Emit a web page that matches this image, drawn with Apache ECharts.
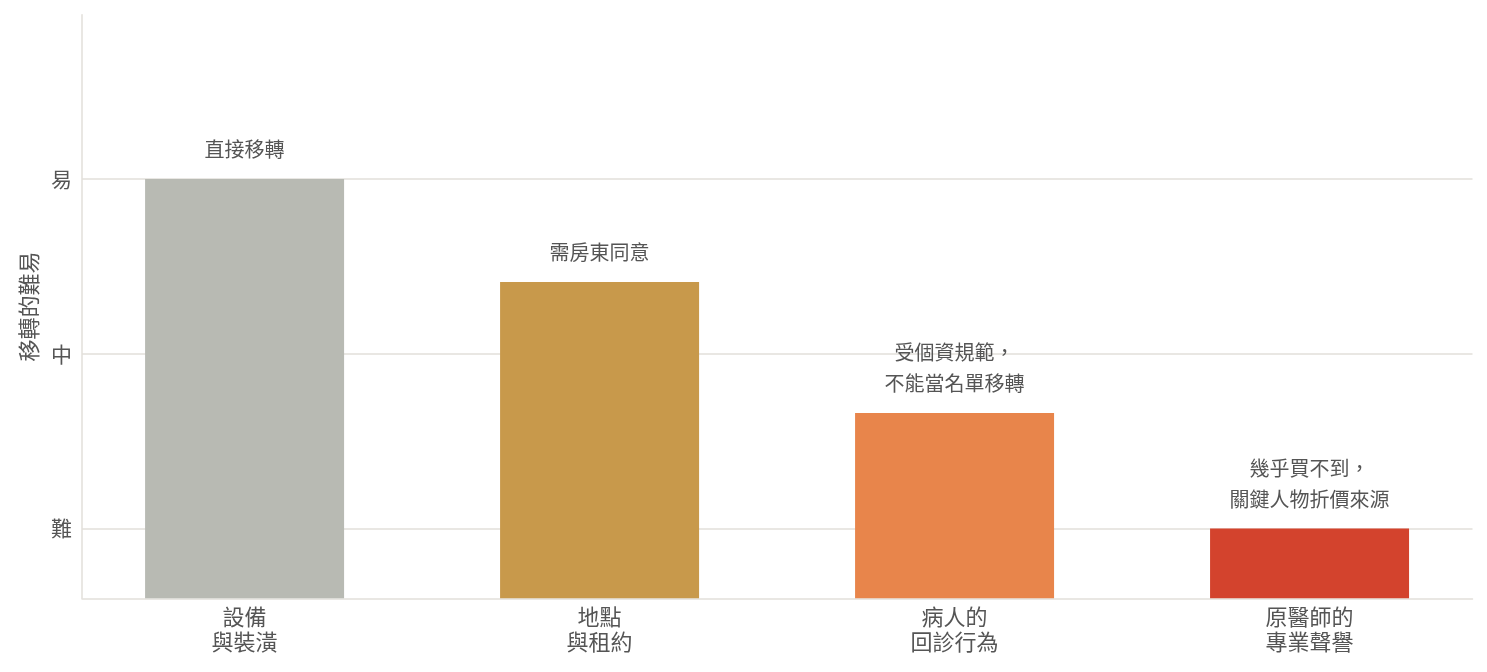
<!DOCTYPE html>
<html>
<head>
<meta charset="utf-8">
<script src="https://cdn.jsdelivr.net/npm/echarts@6/dist/echarts.min.js"></script>
<style>
html,body{margin:0;padding:0;background:#fff;}
#chart{width:1487px;height:672px;}
</style>
</head>
<body>
<div id="chart"></div>
<script>
// Data
var categories = ['設備\n與裝潢', '地點\n與租約', '病人的\n回診行為', '原醫師的\n專業聲譽'];
var values = [3, 2.41, 1.66, 1];
var annotations = ['直接移轉', '需房東同意', '受個資規範，\n不能當名單移轉', '幾乎買不到，\n關鍵人物折價來源'];
var colors = ['#b8bab3', '#c8994b', '#e8854b', '#d3432d'];
var yTickValues = [1, 2, 3];
var yTickLabels = ['難', '中', '易'];
var xPositions = [0, 1, 2, 3];

var font = '"Noto Sans CJK TC", "Noto Sans", sans-serif';
var textColor = '#555555';
var lineColor = '#e2dfda';

var chart = echarts.init(document.getElementById('chart'), null, {renderer: 'canvas'});
chart.setOption({
  animation: false,
  backgroundColor: '#ffffff',
  grid: {left: 82, right: 14.5, top: 14.7, bottom: 73.7, containLabel: false},
  xAxis: {
    type: 'value',
    min: -0.458,
    max: 3.459,
    axisLine: {show: true, onZero: false, lineStyle: {color: lineColor, width: 1.5}},
    axisTick: {show: false},
    splitLine: {show: false},
    axisLabel: {
      customValues: xPositions,
      formatter: function (v) {
        var i = xPositions.indexOf(Math.round(v));
        return i >= 0 ? categories[i] : '';
      },
      color: textColor,
      fontFamily: font,
      fontSize: 22,
      lineHeight: 25,
      margin: 6,
      showMinLabel: true,
      showMaxLabel: true
    }
  },
  yAxis: {
    type: 'value',
    min: 0.6,
    max: 3.94,
    name: '移轉的難易',
    nameLocation: 'middle',
    nameGap: 42,
    nameTextStyle: {color: textColor, fontFamily: font, fontSize: 22},
    axisLine: {show: true, onZero: false, lineStyle: {color: lineColor, width: 1.5}},
    axisTick: {show: false, customValues: yTickValues},
    splitLine: {show: true, lineStyle: {color: lineColor, width: 1.5}},
    axisLabel: {
      customValues: yTickValues,
      formatter: function (v) {
        var i = yTickValues.indexOf(Math.round(v));
        return i >= 0 ? yTickLabels[i] : '';
      },
      color: textColor,
      fontFamily: font,
      fontSize: 21,
      margin: 10
    }
  },
  series: [{
    type: 'bar',
    barWidth: 199,
    clip: true,
    data: values.map(function (v, i) {
      return {value: [xPositions[i], v], itemStyle: {color: colors[i]}};
    }),
    label: {
      show: true,
      position: 'top',
      distance: 14,
      formatter: function (p) { return annotations[p.dataIndex]; },
      color: textColor,
      fontFamily: font,
      fontSize: 20,
      lineHeight: 31
    }
  }]
});
</script>
</body>
</html>
